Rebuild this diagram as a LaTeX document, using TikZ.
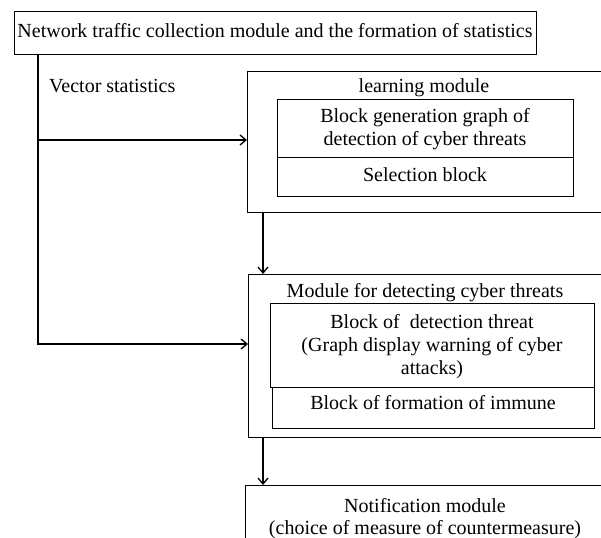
\documentclass[tikz,border=0pt]{standalone}
\usepackage{fontspec}
\setmainfont{Liberation Serif}
\usetikzlibrary{arrows.meta,calc}
\begin{document}
\begin{tikzpicture}[x=1pt,y=-1pt,
  box/.style={draw, line width=1.4pt, rectangle, anchor=north west, inner sep=0pt},
  txt/.style={font=\fontsize{20}{23}\selectfont, inner sep=0pt, anchor=base},
  arr/.style={line width=1.4pt, -{Straight Barb[length=6pt,width=10pt,line width=1.3pt]}}]
\clip (0,0) rectangle (601,537);
% source module
\node[box, minimum width=522pt, minimum height=43pt] (src) at (14,11) {};
\node[txt] (srct) at (275,38) {Network traffic collection module and the formation of statistics};
\node[txt, anchor=base west] (vec) at (49,93) {Vector statistics};
% learning module
\node[box, minimum width=380pt, minimum height=141pt] (learn) at (247,71) {};
\node[txt] (learnt) at (424,93) {learning module};
\node[box, minimum width=296pt, minimum height=58pt] (gen) at (277,99) {};
\node[txt] (gent1) at (425,123) {Block generation graph of};
\node[txt] (gent2) at (425,146) {detection of cyber threats};
\node[box, minimum width=296pt, minimum height=39pt] (sel) at (277,157) {};
\node[txt] (selt) at (425,182) {Selection block};
% detection module
\node[box, minimum width=380pt, minimum height=163pt] (det) at (248,274) {};
\node[txt] (dett) at (425,297) {Module for detecting cyber threats};
\node[box, minimum width=324pt, minimum height=84pt] (thr) at (270,303) {};
\node[txt] (thrt1) at (432,328) {Block of~ detection threat};
\node[txt] (thrt2) at (432,351) {(Graph display warning of cyber};
\node[txt] (thrt3) at (432,374) {attacks)};
\node[box, minimum width=322pt, minimum height=41pt] (imm) at (272,387) {};
\node[txt] (immt) at (433,409) {Block of formation of immune};
% notification module
\node[box, minimum width=380pt, minimum height=80pt] (note) at (245,485) {};
\node[txt] (notet1) at (425,512) {Notification module};
\node[txt] (notet2) at (425,534) {(choice of measure of countermeasure)};
% connectors
\coordinate (tap) at ($(src.south west)+(24,0)$);
\coordinate (inL) at (learn.west |- 0,140);
\coordinate (inD) at (det.west |- 0,344);
\draw[arr] (tap) |- (inD);
\draw[arr] (tap |- inL) -- (inL);
\draw[arr] (learn.south west -| 263,0) -- (det.north west -| 263,0);
\draw[arr] (det.south west -| 263,0) -- (note.north west -| 263,0);
\end{tikzpicture}
\end{document}
